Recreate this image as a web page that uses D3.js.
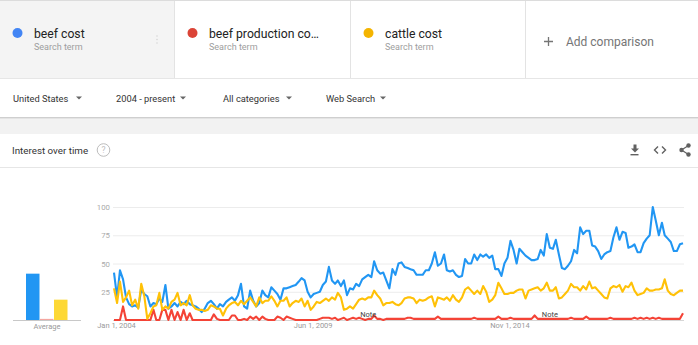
<!DOCTYPE html>
<html><head><meta charset="utf-8">
<script src="https://cdn.jsdelivr.net/npm/d3@7"></script>
<style>
html,body{margin:0;padding:0;background:#fff;}
svg{display:block;font-family:Roboto,"Noto Sans",Arial,sans-serif;}
</style></head><body>
<svg id="page" width="698" height="345"></svg>
<script>
// Search terms shown in the comparison cards
const termLabels = ["beef cost", "beef production co\u2026", "cattle cost"];
const termColors = ["#4285f4", "#db4437", "#f4b400"];
const lineColors = ["#2196f3", "#f44336", "#ffc107"];
const barColors  = ["#2196f3", "#f44336", "#fdd835"];

// Filter row
const filters = ["United States", "2004 - present", "All categories", "Web Search"];

// Monthly categories, Jan 2004 .. Sep 2019
const months = d3.timeMonth.range(new Date(2004, 0, 1), new Date(2019, 9, 1));

// Interest over time (0-100), one value per month
const beefCost = [
  42, 20, 44, 36, 20, 14, 12, 13, 11, 27, 23, 21,
  12, 15, 14, 19, 16, 31, 10, 12, 15, 12, 16, 14,
  17, 14, 13, 12, 10, 7, 10, 15, 17, 14, 10, 14,
  12, 16, 18, 20, 17, 22, 32, 12, 10, 26, 17, 12,
  15, 26, 22, 20, 29, 26, 23, 18, 28, 28, 29, 30,
  31, 34, 37, 35, 25, 20, 23, 24, 25, 31, 34, 47,
  35, 32, 35, 30, 35, 22, 28, 27, 32, 30, 36, 38,
  40, 38, 52, 44, 41, 42, 35, 28, 45, 40, 50, 51,
  47, 46, 45, 44, 40, 40, 40, 44, 44, 50, 60, 48,
  50, 58, 44, 43, 44, 40, 38, 39, 54, 50, 50, 58,
  53, 58, 56, 58, 55, 57, 45, 45, 39, 50, 55, 70,
  62, 50, 63, 60, 57, 55, 53, 53, 54, 62, 57, 76,
  64, 63, 71, 58, 46, 45, 48, 52, 62, 59, 82, 76,
  79, 79, 66, 65, 61, 54, 58, 60, 61, 73, 82, 71,
  78, 77, 64, 65, 67, 60, 60, 68, 72, 75, 100, 88,
  75, 86, 75, 72, 69, 61, 61, 67, 68
];
const beefProductionCost = [
  0, 0, 0, 12, 0, 0, 0, 0, 0, 0, 0, 0,
  0, 9, 0, 0, 9, 9, 0, 9, 0, 7, 0, 9,
  0, 6, 0, 0, 0, 0, 0, 0, 0, 5, 1, 0,
  0, 0, 0, 4, 4, 0, 0, 1, 0, 3, 1, 3,
  0, 3, 1, 0, 0, 0, 3, 2, 0, 3, 2, 1,
  0, 0, 0, 0, 0, 0, 0, 0, 1, 2, 2, 2,
  1, 2, 0, 1, 2, 0, 1, 2, 1, 2, 1, 0,
  1, 1, 4, 1, 1, 0, 1, 1, 1, 1, 1, 1,
  1, 2, 2, 1, 1, 1, 1, 1, 1, 1, 1, 3,
  1, 1, 1, 1, 1, 1, 1, 1, 1, 1, 1, 2,
  1, 1, 1, 1, 1, 1, 1, 3, 1, 1, 1, 2,
  1, 1, 1, 1, 1, 1, 1, 4, 1, 1, 1, 1,
  1, 1, 1, 1, 1, 1, 1, 2, 1, 1, 1, 1,
  3, 1, 1, 1, 1, 1, 1, 1, 2, 1, 1, 1,
  1, 1, 1, 1, 2, 1, 2, 1, 2, 1, 2, 1,
  2, 1, 1, 1, 1, 1, 1, 1, 6
];
const cattleCost = [
  28, 15, 34, 16, 20, 26, 13, 18, 10, 32, 21, 1,
  6, 12, 13, 24, 9, 12, 10, 16, 18, 24, 13, 15,
  13, 22, 13, 10, 9, 9, 8, 9, 13, 12, 10, 10,
  4, 10, 13, 15, 16, 13, 17, 14, 17, 20, 16, 12,
  20, 15, 17, 17, 21, 17, 12, 17, 17, 20, 12, 15,
  17, 16, 19, 12, 17, 9, 12, 16, 15, 17, 19, 17,
  20, 18, 24, 20, 9, 10, 12, 10, 14, 18, 19, 18,
  20, 20, 26, 22, 19, 13, 15, 15, 16, 14, 13, 15,
  19, 20, 20, 19, 15, 18, 17, 18, 20, 21, 12, 20,
  19, 18, 20, 17, 22, 18, 16, 20, 27, 29, 26, 23,
  26, 23, 30, 25, 16, 18, 22, 33, 28, 23, 23, 24,
  24, 26, 27, 27, 19, 26, 27, 28, 29, 26, 28, 33,
  26, 26, 29, 19, 20, 23, 26, 32, 29, 29, 26, 30,
  27, 34, 28, 29, 26, 23, 20, 19, 28, 30, 29, 31,
  25, 30, 29, 33, 26, 22, 23, 24, 28, 26, 26, 27,
  27, 28, 36, 26, 23, 22, 24, 26, 26
];
const averages = [41, 1, 18];

const yTicks = [25, 50, 75, 100];
const xTickDates = [new Date(2004, 0, 1), new Date(2009, 5, 1), new Date(2014, 10, 1)];
const xTickLabels = ["Jan 1, 2004", "Jun 1, 2009", "Nov 1, 2014"];
const noteDates = [new Date(2011, 0, 1), new Date(2016, 0, 1)];

const svg = d3.select("#page");

// ---------- comparison cards ----------
svg.append("rect").attr("x", 0).attr("y", 0).attr("width", 698).attr("height", 78).attr("fill", "#fff");
svg.append("rect").attr("x", 0).attr("y", 0).attr("width", 174).attr("height", 78).attr("fill", "#f4f4f4");
svg.append("rect").attr("x", 0).attr("y", 0).attr("width", 698).attr("height", 1).attr("fill", "#dcdcdc");
[174.5, 350.5, 525.5].forEach(x => svg.append("line").attr("x1", x).attr("x2", x)
  .attr("y1", 1).attr("y2", 78).attr("stroke", "#e3e3e3"));
svg.append("line").attr("x1", 0).attr("x2", 698).attr("y1", 78.5).attr("y2", 78.5).attr("stroke", "#e6e6e6");

const cardX = [0, 175, 351];
termLabels.forEach((t, i) => {
  const g = svg.append("g").attr("transform", `translate(${cardX[i]},0)`);
  g.append("circle").attr("cx", 17.5).attr("cy", 33).attr("r", 5).attr("fill", termColors[i]);
  g.append("text").attr("x", 34).attr("y", 37.5).attr("font-size", 12.2).attr("fill", "#222").text(t);
  g.append("text").attr("x", 34).attr("y", 49.5).attr("font-size", 9).attr("fill", "#9e9e9e").text("Search term");
});
// faint menu dots in the first card
[36, 39.5, 43].forEach(y => svg.append("circle").attr("cx", 157).attr("cy", y).attr("r", 0.8).attr("fill", "#d6d6d6"));
// add comparison
svg.append("path").attr("d", "M544,41.5H553M548.5,37V46").attr("stroke", "#757575").attr("stroke-width", 1.3);
svg.append("text").attr("x", 566).attr("y", 46).attr("font-size", 12).attr("fill", "#757575").text("Add comparison");

// ---------- filter row ----------
svg.append("rect").attr("x", 0).attr("y", 79).attr("width", 698).attr("height", 38).attr("fill", "#fff");
svg.append("rect").attr("x", 0).attr("y", 117).attr("width", 698).attr("height", 17).attr("fill", "#f2f2f2");
svg.append("line").attr("x1", 0).attr("x2", 698).attr("y1", 117.5).attr("y2", 117.5).attr("stroke", "#cfcfcf");
svg.append("line").attr("x1", 0).attr("x2", 698).attr("y1", 118.5).attr("y2", 118.5).attr("stroke", "#e4e4e4");
const filterX = [13, 116, 223, 326];
const arrowX = [79, 183, 289, 383];
filters.forEach((f, i) => {
  svg.append("text").attr("x", filterX[i]).attr("y", 101.5).attr("font-size", 9.3).attr("fill", "#333").text(f);
  const ax = arrowX[i];
  svg.append("path").attr("d", `M${ax - 3},96.5L${ax + 3},96.5L${ax},99.5Z`).attr("fill", "#666");
});

// ---------- interest over time card ----------
svg.append("rect").attr("x", 0).attr("y", 134).attr("width", 698).attr("height", 211).attr("fill", "#fff");
svg.append("text").attr("x", 12).attr("y", 153.5).attr("font-size", 9.8).attr("fill", "#333").text("Interest over time");
svg.append("circle").attr("cx", 103.5).attr("cy", 150).attr("r", 6.3).attr("fill", "none").attr("stroke", "#bdbdbd").attr("stroke-width", 1);
svg.append("text").attr("x", 103.5).attr("y", 153.2).attr("font-size", 8.5).attr("text-anchor", "middle").attr("fill", "#bdbdbd").text("?");
svg.append("line").attr("x1", 0).attr("x2", 698).attr("y1", 167.5).attr("y2", 167.5).attr("stroke", "#e6e6e6");

// download icon
svg.append("path").attr("d", "M633.5,144.5h3v4h2.5l-4,4l-4,-4h2.5z").attr("fill", "#616161");
svg.append("rect").attr("x", 630.5).attr("y", 154).attr("width", 8).attr("height", 1.4).attr("fill", "#616161");
// embed icon
svg.append("path").attr("d", "M658,146.5l-3.5,3.5l3.5,3.5M662,146.5l3.5,3.5l-3.5,3.5")
  .attr("fill", "none").attr("stroke", "#616161").attr("stroke-width", 1.4);
// share icon
svg.append("path").attr("d", "M688.5,145.5L681.5,150L688.5,154.5").attr("fill", "none").attr("stroke", "#616161").attr("stroke-width", 1.2);
[[688.5, 145.5], [681.5, 150], [688.5, 154.5]].forEach(p =>
  svg.append("circle").attr("cx", p[0]).attr("cy", p[1]).attr("r", 2.2).attr("fill", "#616161"));

// ---------- scales ----------
const x = d3.scaleTime().domain([months[0], months[months.length - 1]]).range([114, 683]);
const y = d3.scaleLinear().domain([0, 100]).range([320, 207]);

// gridlines + y labels
const yAxis = svg.append("g").attr("transform", "translate(113,0)")
  .call(d3.axisLeft(y).tickValues(yTicks).tickSize(-571).tickPadding(3));
yAxis.select(".domain").remove();
yAxis.selectAll(".tick line").attr("stroke", "#ececec");
yAxis.selectAll(".tick text").attr("font-size", 7.8).attr("fill", "#aaa").attr("font-family", "Roboto");
svg.append("line").attr("x1", 113).attr("x2", 684).attr("y1", y(0) + 0.5).attr("y2", y(0) + 0.5).attr("stroke", "#d6d6d6");

// x labels
const xAxis = svg.append("g").attr("transform", `translate(0,${y(0)})`)
  .call(d3.axisBottom(x).tickValues(xTickDates).tickFormat((d, i) => xTickLabels[i]).tickSize(0).tickPadding(3));
xAxis.select(".domain").remove();
xAxis.selectAll(".tick text").attr("font-size", 7.5).attr("fill", "#999").attr("font-family", "Roboto")
  .attr("dx", "2");

// ---------- average bars ----------
const band = d3.scaleBand().domain(d3.range(averages.length)).range([26, 68]).padding(0);
svg.append("line").attr("x1", 13).attr("x2", 81).attr("y1", y(0) + 0.5).attr("y2", y(0) + 0.5).attr("stroke", "#c8c8c8");
svg.selectAll(".avg").data(averages).join("rect").attr("class", "avg")
  .attr("x", (d, i) => band(i)).attr("width", band.bandwidth() - 0.5)
  .attr("y", d => y(d)).attr("height", d => y(0) - y(d))
  .attr("fill", (d, i) => i === 1 ? "#f4a7a1" : barColors[i]);
svg.append("text").attr("x", 47).attr("y", 329).attr("text-anchor", "middle").attr("font-size", 7.5)
  .attr("fill", "#999").text("Average");

// ---------- lines ----------
const series = [beefCost, beefProductionCost, cattleCost];
const line = d3.line().x((d, i) => x(months[i])).y(d => y(d));
series.forEach((s, i) => {
  svg.append("path").datum(s).attr("d", line).attr("fill", "none")
    .attr("stroke", lineColors[i]).attr("stroke-width", 2.1).attr("stroke-linejoin", "round");
});

// notes
noteDates.forEach(d => svg.append("text").attr("x", x(d)).attr("y", 316.5).attr("text-anchor", "middle")
  .attr("font-size", 7.5).attr("fill", "#444").text("Note"));
</script>
</body></html>
